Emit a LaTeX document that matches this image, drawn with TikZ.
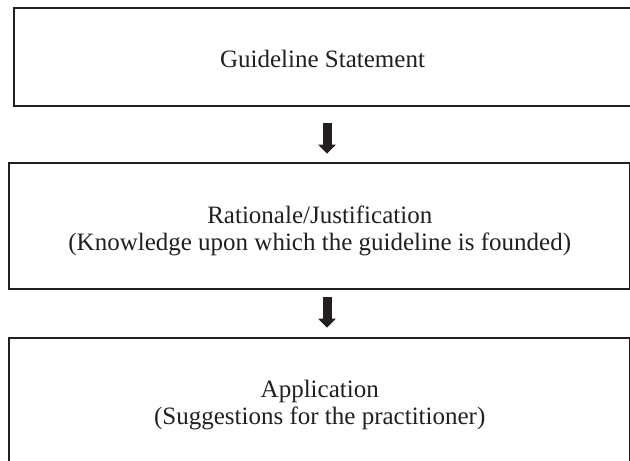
\documentclass[tikz,border=0pt]{standalone}
\usepackage{fontspec}
\setmainfont{Liberation Serif}
\usetikzlibrary{arrows.meta}
\definecolor{ink}{HTML}{231F20}
\tikzset{
  box/.style={draw=ink, line width=2.6bp, rectangle, inner sep=0pt, fill=none},
  label/.style={font=\fontsize{25bp}{26.5bp}\selectfont, text=ink, align=center, inner sep=0pt},
  blockarrow/.style={draw=ink, line width=9bp, -{Triangle[width=17bp,length=9bp]}}
}
\begin{document}
\begin{tikzpicture}[x=1bp,y=-1bp]
\useasboundingbox (0,0) rectangle (630,461);
\clip (0,0) rectangle (630,461);
\fill[white] (0,0) rectangle (630,461);
\node[box, minimum width=626bp, minimum height=98bp] (b1) at (327,57) {};
\node[box, minimum width=621.5bp, minimum height=126bp] (b2) at (319.75,226) {};
\node[box, minimum width=621.5bp, minimum height=142bp] (b3) at (319.75,409) {};
\node[label, anchor=base] (t1) at (322.5,68) {Guideline Statement};
\node[label] (t2) at (319.75,231) {Rationale/Justification\\(Knowledge upon which the guideline is founded)};
\node[label] (t3) at (319.75,405) {Application\\(Suggestions for the practitioner)};
\draw[blockarrow] ([yshift=-16bp]b1.south) -- ([yshift=8bp]b2.north -| b1.south);
\draw[blockarrow] ([yshift=-7bp]b2.south -| b1.south) -- ([yshift=9bp]b3.north -| b1.south);
\end{tikzpicture}
\end{document}
